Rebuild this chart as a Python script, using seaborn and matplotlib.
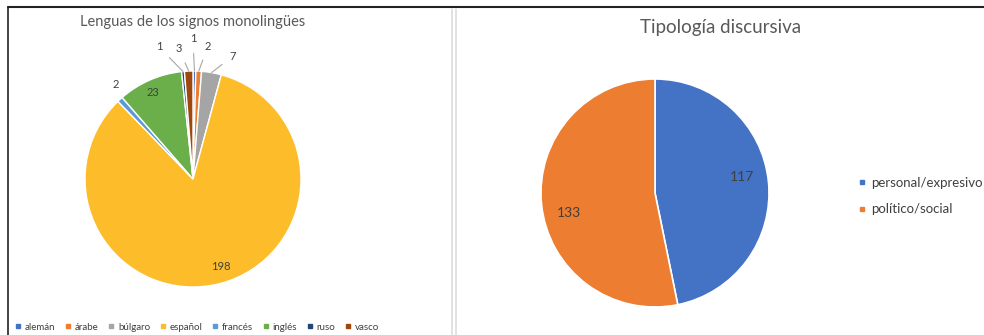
import numpy as np
import matplotlib
matplotlib.use("Agg")
import matplotlib.pyplot as plt
import seaborn as sns
from matplotlib.lines import Line2D

# ---------------- data ----------------
lenguas = ["alemán", "árabe", "búlgaro", "español", "francés", "inglés", "ruso", "vasco"]
lenguas_vals = [1, 2, 7, 198, 2, 23, 1, 3]
tipologia = ["personal/expresivo", "político/social"]
tipologia_vals = [117, 133]
title_left = "Lenguas de los signos monolingües"
title_right = "Tipología discursiva"

# ---------------- style ----------------
sns.set_theme(style="white")
plt.rcParams["font.family"] = ["Lato", "DejaVu Sans"]

left_colors = ["#4472C4", "#ED7D31", "#A5A5A5", "#FDBD2A", "#5B9BD5", "#6AAF4A", "#264478", "#9E480E"]
right_colors = ["#4472C4", "#ED7D31"]
txt = "#404040"
W, H = 984, 335

fig = plt.figure(figsize=(W / 100, H / 100), dpi=100)
ax = fig.add_axes([0, 0, 1, 1])

def py(y):
    return H - y

# left pie
c1 = (193, py(179)); r1 = 108
w1, _ = ax.pie(lenguas_vals, colors=left_colors, startangle=90, counterclock=False,
               center=c1, radius=r1, wedgeprops=dict(edgecolor="white", linewidth=1.0))
# label positions (pixel coords), leader line flag
lab_pos = {
    0: ((193, 39), True),
    1: ((208, 46), True),
    2: ((233, 56), True),
    3: ((221, 267), False),
    4: ((116, 85), False),
    5: ((153, 92), False),
    6: ((159, 47), True),
    7: ((179, 49), True),
}
for i, w in enumerate(w1):
    (lx, ly), lead = lab_pos[i]
    if lead:
        mid = np.deg2rad((w.theta1 + w.theta2) / 2)
        ex = c1[0] + r1 * np.cos(mid)
        ey = c1[1] + r1 * np.sin(mid)
        ax.annotate(str(lenguas_vals[i]), xy=(ex, ey), xytext=(lx, py(ly)),
                    ha="center", va="center", fontsize=8, color=txt,
                    arrowprops=dict(arrowstyle="-", color="#A6A6A6", lw=0.8,
                                    shrinkA=4, shrinkB=0))
    else:
        ax.text(lx, py(ly), str(lenguas_vals[i]), ha="center", va="center",
                fontsize=8, color=txt)

# right pie
c2 = (655, py(193)); r2 = 114
w2, _ = ax.pie(tipologia_vals, colors=right_colors, startangle=90, counterclock=False,
               center=c2, radius=r2, wedgeprops=dict(edgecolor="white", linewidth=1.2))
right_lab = [(742, 177), (569, 213)]
for v, (lx, ly) in zip(tipologia_vals, right_lab):
    ax.text(lx, py(ly), str(v), ha="center", va="center", fontsize=10, color=txt)

ax.set_xlim(0, W)
ax.set_ylim(0, H)
ax.set_aspect("equal")
ax.axis("off")

# titles
fig.text(193 / W, 1 - 22 / H, title_left, ha="center", va="center", fontsize=10.5, color="#595959")
fig.text(721 / W, 1 - 28 / H, title_right, ha="center", va="center", fontsize=13.5, color="#595959")

# legends
h_left = [Line2D([], [], marker="s", linestyle="", markersize=3, color=c) for c in left_colors]
fig.legend(h_left, lenguas, loc="center", bbox_to_anchor=(197 / W, 1 - 327 / H), ncol=8,
           frameon=False, fontsize=7, handlelength=0.6, handletextpad=0.4, columnspacing=1.0,
           labelcolor=txt)
h_right = [Line2D([], [], marker="s", linestyle="", markersize=3.5, color=c) for c in right_colors]
fig.legend(h_right, tipologia, loc="upper left", bbox_to_anchor=(855 / W, 1 - 173 / H), ncol=1,
           frameon=False, fontsize=9.5, handlelength=0.5, handletextpad=0.4, labelspacing=1.1,
           labelcolor=txt, borderaxespad=0, borderpad=0.3)

# frames
fig.add_artist(Line2D([8 / W, 1], [1 - 7 / H, 1 - 7 / H], color="#222222", lw=1.5))
fig.add_artist(Line2D([8 / W, 8 / W], [0, 1 - 7 / H], color="#222222", lw=1.2))
for x in (452, 456):
    fig.add_artist(Line2D([x / W, x / W], [0, 1 - 9 / H], color="#DDDDDD", lw=1.2))

fig.savefig("out.png", dpi=100, facecolor="white")
